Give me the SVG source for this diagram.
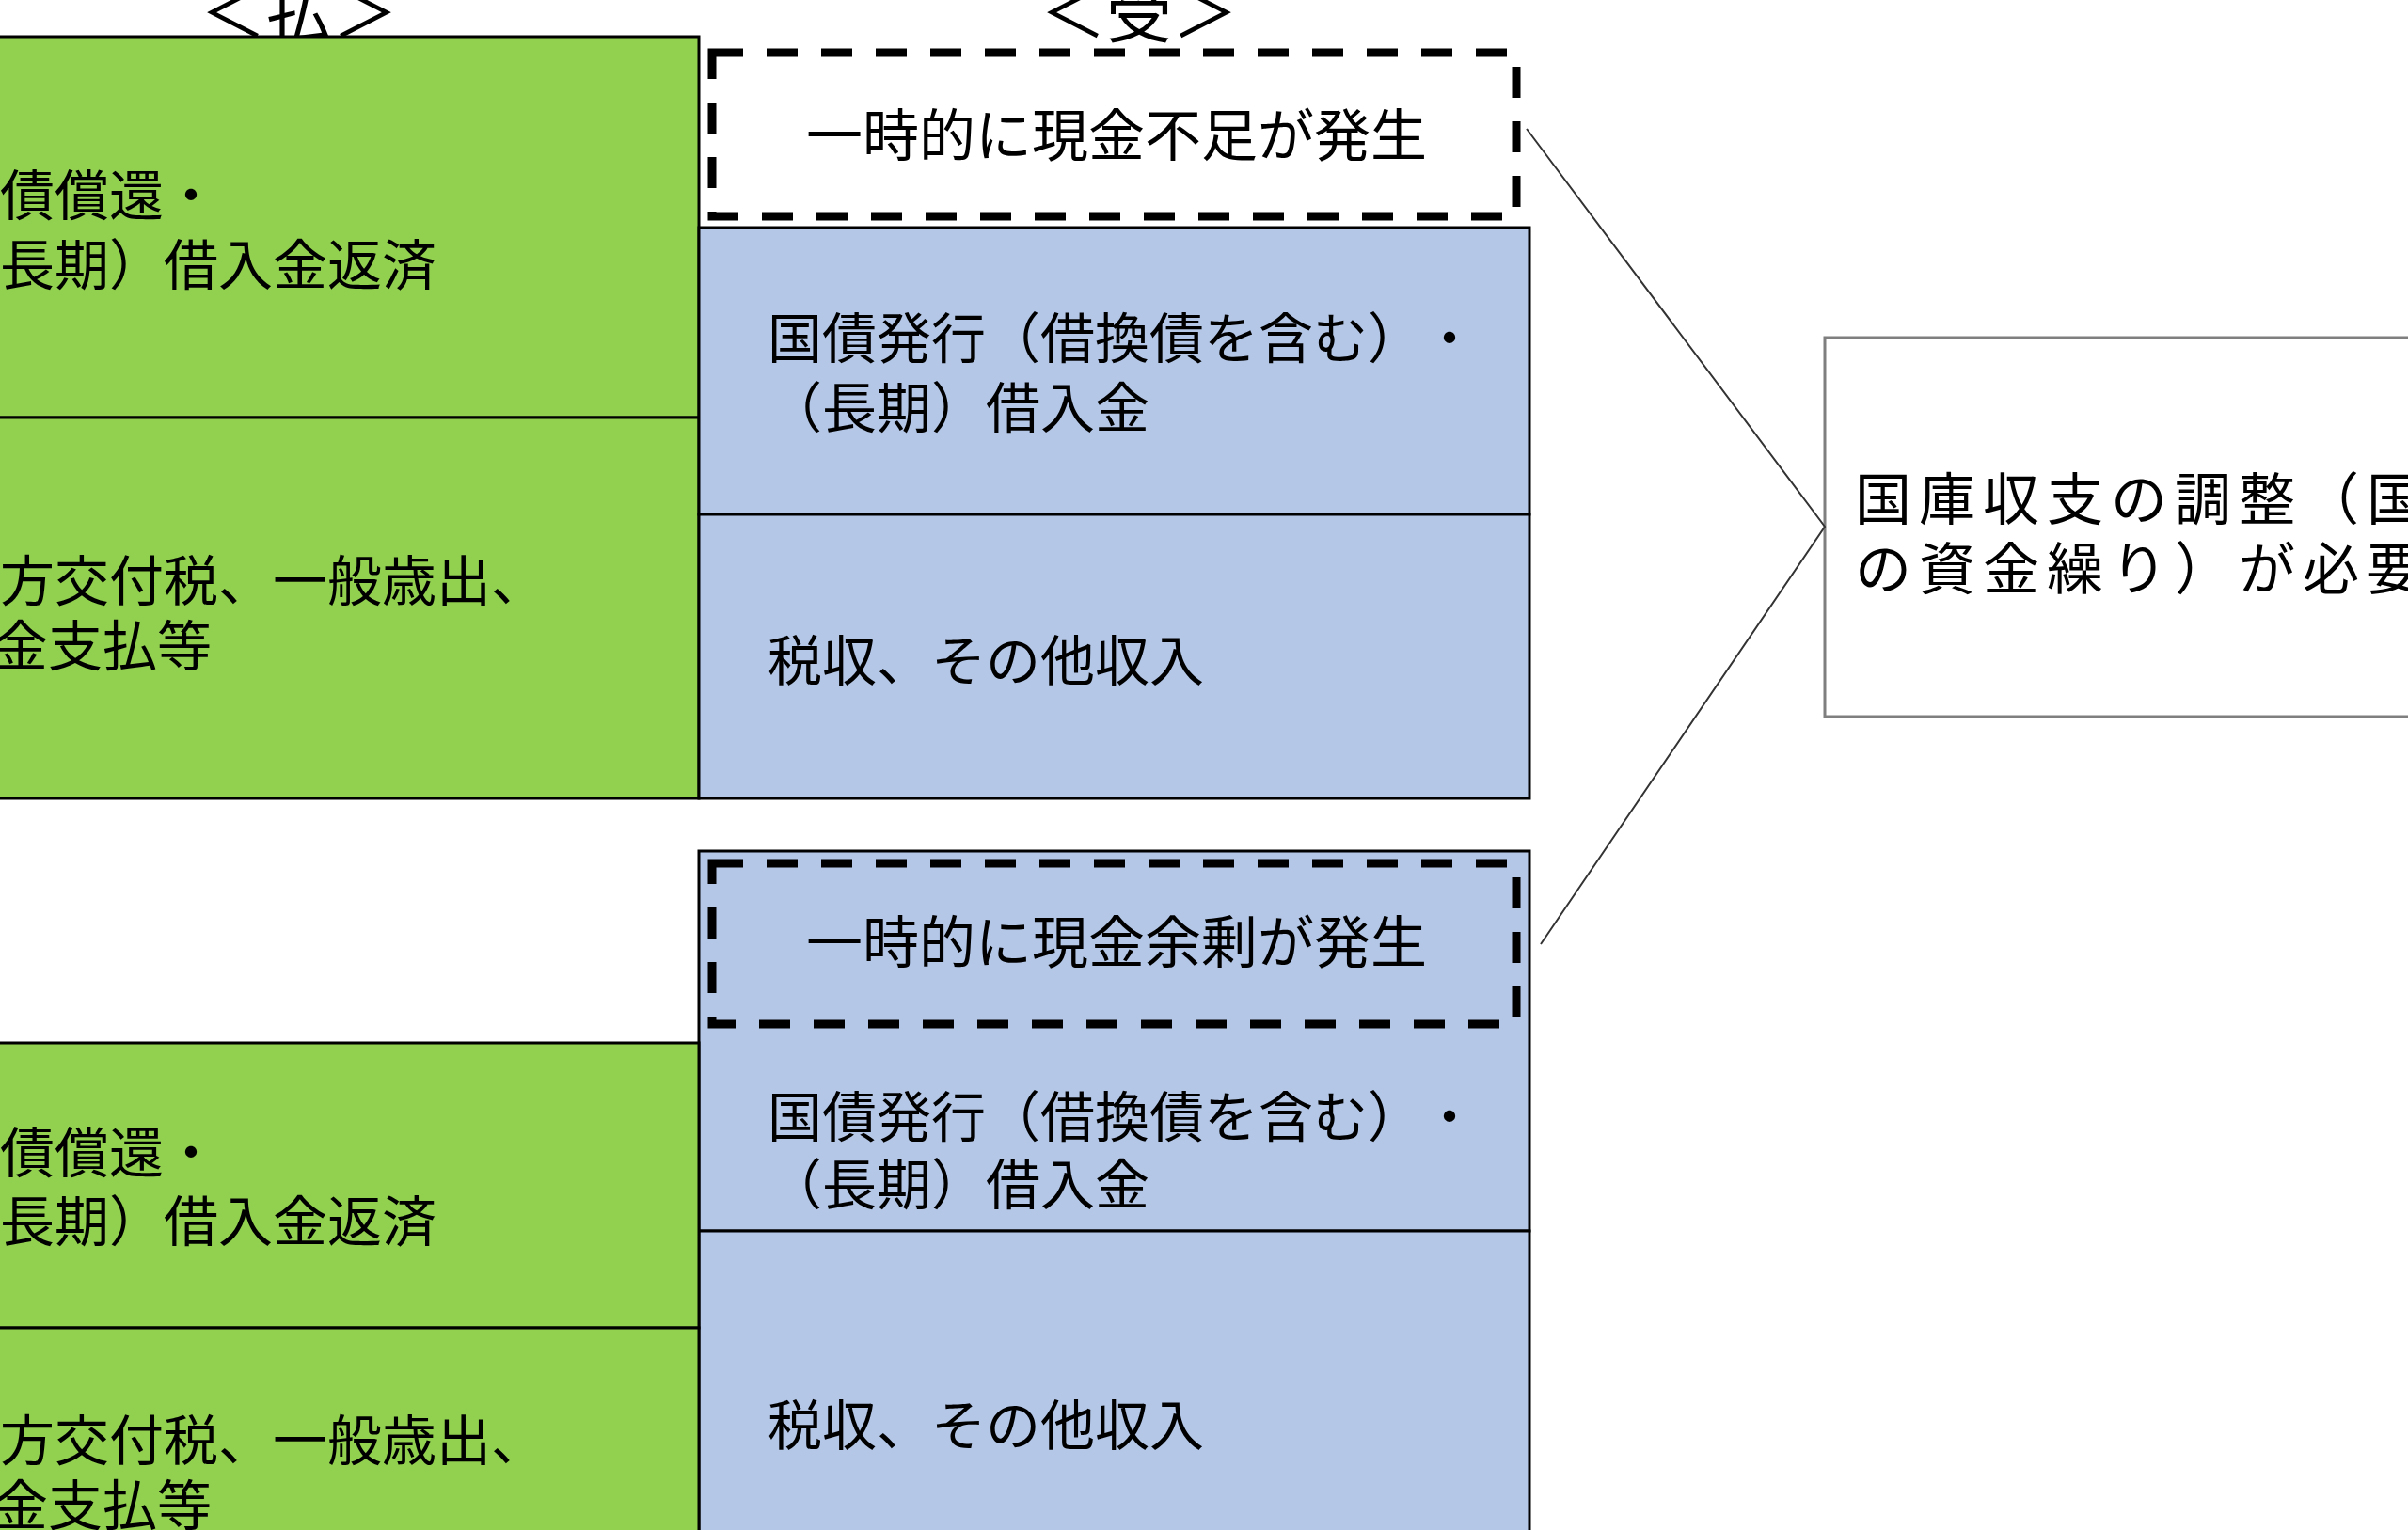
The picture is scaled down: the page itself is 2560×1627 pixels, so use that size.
<svg xmlns="http://www.w3.org/2000/svg" width="2560" height="1627" viewBox="0 0 2560 1627">
<style>
text{text-spacing-trim:space-all}
.t{font-family:"Noto Sans CJK JP","Noto Sans CJK SC",sans-serif;font-size:58px;fill:#000}
.s{font-family:"Noto Sans CJK JP","Noto Sans CJK SC",sans-serif;font-size:60px;fill:#000}
.h{font-family:"Noto Sans CJK JP","Noto Sans CJK SC",sans-serif;font-size:70px;fill:#000}
.r{font-family:"Noto Sans CJK JP","Noto Sans CJK SC",sans-serif;font-size:60px;letter-spacing:8px;fill:#000}
.g{fill:#92D050;stroke:#000;stroke-width:3}
.b{fill:#B4C7E7;stroke:#000;stroke-width:3}
.d{fill:none;stroke:#000;stroke-width:9;stroke-dasharray:33 25}
.c{stroke:#333;stroke-width:2;fill:none}
</style>
<rect width="2560" height="1627" fill="#fff"/>
<g id="header-pay"><text class="h" x="318" y="40" text-anchor="middle">＜払＞</text></g>
<g id="header-recv"><text class="h" x="1211" y="40" text-anchor="middle">＜受＞</text></g>

<g id="top-pay-redemption">
<rect class="g" x="-10" y="39" width="753" height="405"/>
<text class="t" x="0" y="229">債償還・</text>
<text class="t" x="0" y="303">長期）借入金返済</text>
</g>
<g id="top-pay-expense">
<rect class="g" x="-10" y="444" width="753" height="405"/>
<text class="t" x="0" y="639">方交付税、一般歳出、</text>
<text class="t" x="-7" y="708">金支払等</text>
</g>
<g id="top-shortage">
<rect class="d" x="757" y="56" width="855" height="174"/>
<text class="s" x="1187" y="166" text-anchor="middle">一時的に現金不足が発生</text>
</g>
<g id="top-recv-bonds">
<rect class="b" x="743" y="242" width="883" height="305"/>
<text class="t" x="816" y="381">国債発行（借換債を含む）・</text>
<text class="t" x="816" y="455">（長期）借入金</text>
</g>
<g id="top-recv-tax">
<rect class="b" x="743" y="547" width="883" height="302"/>
<text class="t" x="816" y="724">税収、その他収入</text>
</g>

<g id="bottom-recv-bonds">
<rect class="b" x="743" y="905" width="883" height="404"/>
<text class="t" x="816" y="1209">国債発行（借換債を含む）・</text>
<text class="t" x="816" y="1281">（長期）借入金</text>
</g>
<g id="bottom-surplus">
<rect class="d" x="757" y="918" width="855" height="171"/>
<text class="s" x="1187" y="1024" text-anchor="middle">一時的に現金余剰が発生</text>
</g>
<g id="bottom-recv-tax">
<rect class="b" x="743" y="1309" width="883" height="340"/>
<text class="t" x="816" y="1537">税収、その他収入</text>
</g>
<g id="bottom-pay-redemption">
<rect class="g" x="-10" y="1109" width="753" height="303"/>
<text class="t" x="0" y="1247">債償還・</text>
<text class="t" x="0" y="1320">長期）借入金返済</text>
</g>
<g id="bottom-pay-expense">
<rect class="g" x="-10" y="1412" width="753" height="240"/>
<text class="t" x="0" y="1553">方交付税、一般歳出、</text>
<text class="t" x="-7" y="1622">金支払等</text>
</g>

<g id="adjust">
<rect x="1940" y="359" width="640" height="403" fill="#fff" stroke="#7f7f7f" stroke-width="3"/>
<text class="r" x="1972" y="553">国庫収支の調整（国</text>
<text class="r" x="1972" y="627">の資金繰り）が必要</text>
</g>

<g id="connectors">
<polyline class="c" points="1623,137 1940,560 1638,1004"/>
</g>
</svg>
